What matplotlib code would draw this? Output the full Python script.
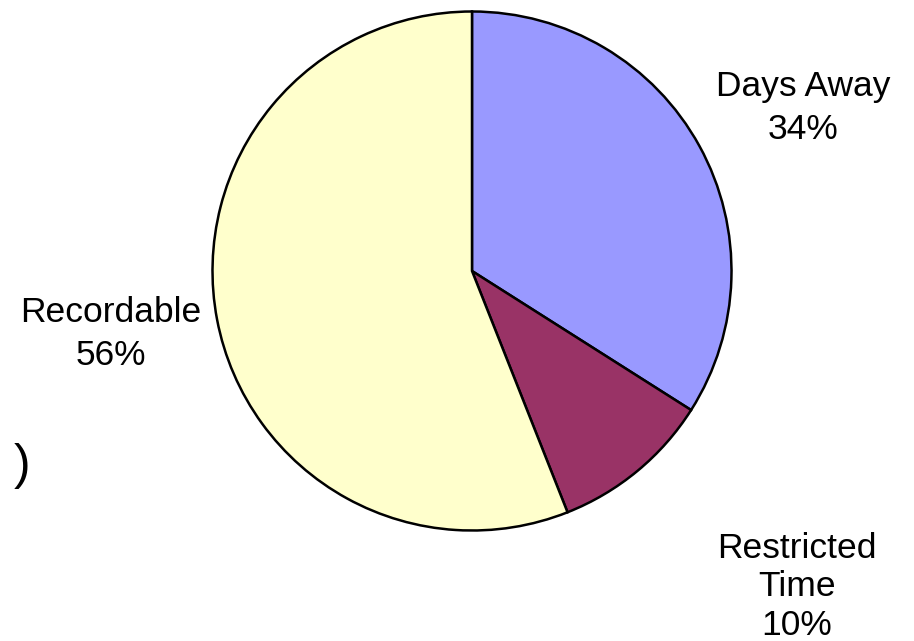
import matplotlib.pyplot as plt

# data
categories = ['Days Away', 'Restricted\nTime', 'Recordable']
shares = [34, 10, 56]
colors = ['#9999FF', '#993366', '#FFFFCC']

plt.rcParams['font.family'] = ['Liberation Sans', 'DejaVu Sans']

W, H = 914, 641
fig = plt.figure(figsize=(W / 100, H / 100), dpi=100)
ax = fig.add_axes([0, 0, 1, 1])

cx, cy, r = 472, 271, 259.5
ax.pie(shares, colors=colors, startangle=90, counterclock=False,
       center=(cx, H - cy), radius=r, frame=True,
       wedgeprops=dict(edgecolor='black', linewidth=1.8))
ax.set_xlim(0, W)
ax.set_ylim(0, H)
ax.set_aspect('equal')
ax.axis('off')

# label block centres in pixel coords (x, y from top), and line spacing
label_pos = [(803, 108), (797, 587), (111, 334)]
spacing = [1.38, 1.2, 1.38]
for name, val, (lx, ly), ls in zip(categories, shares, label_pos, spacing):
    ax.text(lx, H - ly, f"{name}\n{val}%", ha='center', va='center',
            fontsize=25.5, linespacing=ls, color='black')

ax.text(22, H - 466, ')', ha='center', va='center', fontsize=36)

fig.savefig('out.png', dpi=100, facecolor='white')
